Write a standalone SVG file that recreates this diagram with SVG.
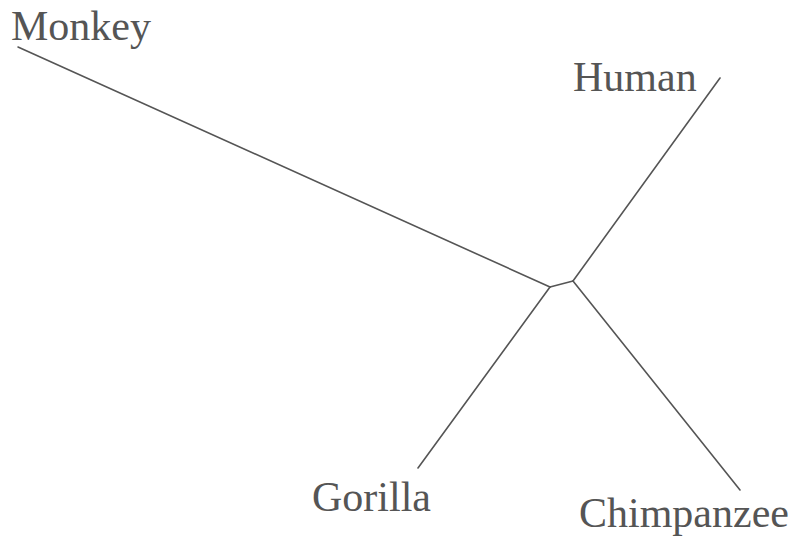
<svg xmlns="http://www.w3.org/2000/svg" width="798" height="539" viewBox="0 0 798 539">
<style>
.lbl{font-family:"Liberation Serif","Times New Roman",serif;font-size:42px;fill:#555}
.br{stroke:#555;stroke-width:1.6;fill:none;stroke-linecap:round}
</style>
<rect width="798" height="539" fill="#fff"/>
<g id="connectors">
<line class="br" x1="18" y1="47" x2="550" y2="287"/>
<line class="br" x1="550" y1="287" x2="573" y2="281"/>
<line class="br" x1="573" y1="281" x2="720" y2="78"/>
<line class="br" x1="550" y1="287" x2="418" y2="468"/>
<line class="br" x1="573" y1="281" x2="740" y2="490"/>
</g>
<g id="monkey"><text class="lbl" x="11" y="40">Monkey</text></g>
<g id="human"><text class="lbl" x="573" y="91">Human</text></g>
<g id="gorilla"><text class="lbl" x="312" y="511">Gorilla</text></g>
<g id="chimpanzee"><text class="lbl" x="579" y="527">Chimpanzee</text></g>
</svg>
